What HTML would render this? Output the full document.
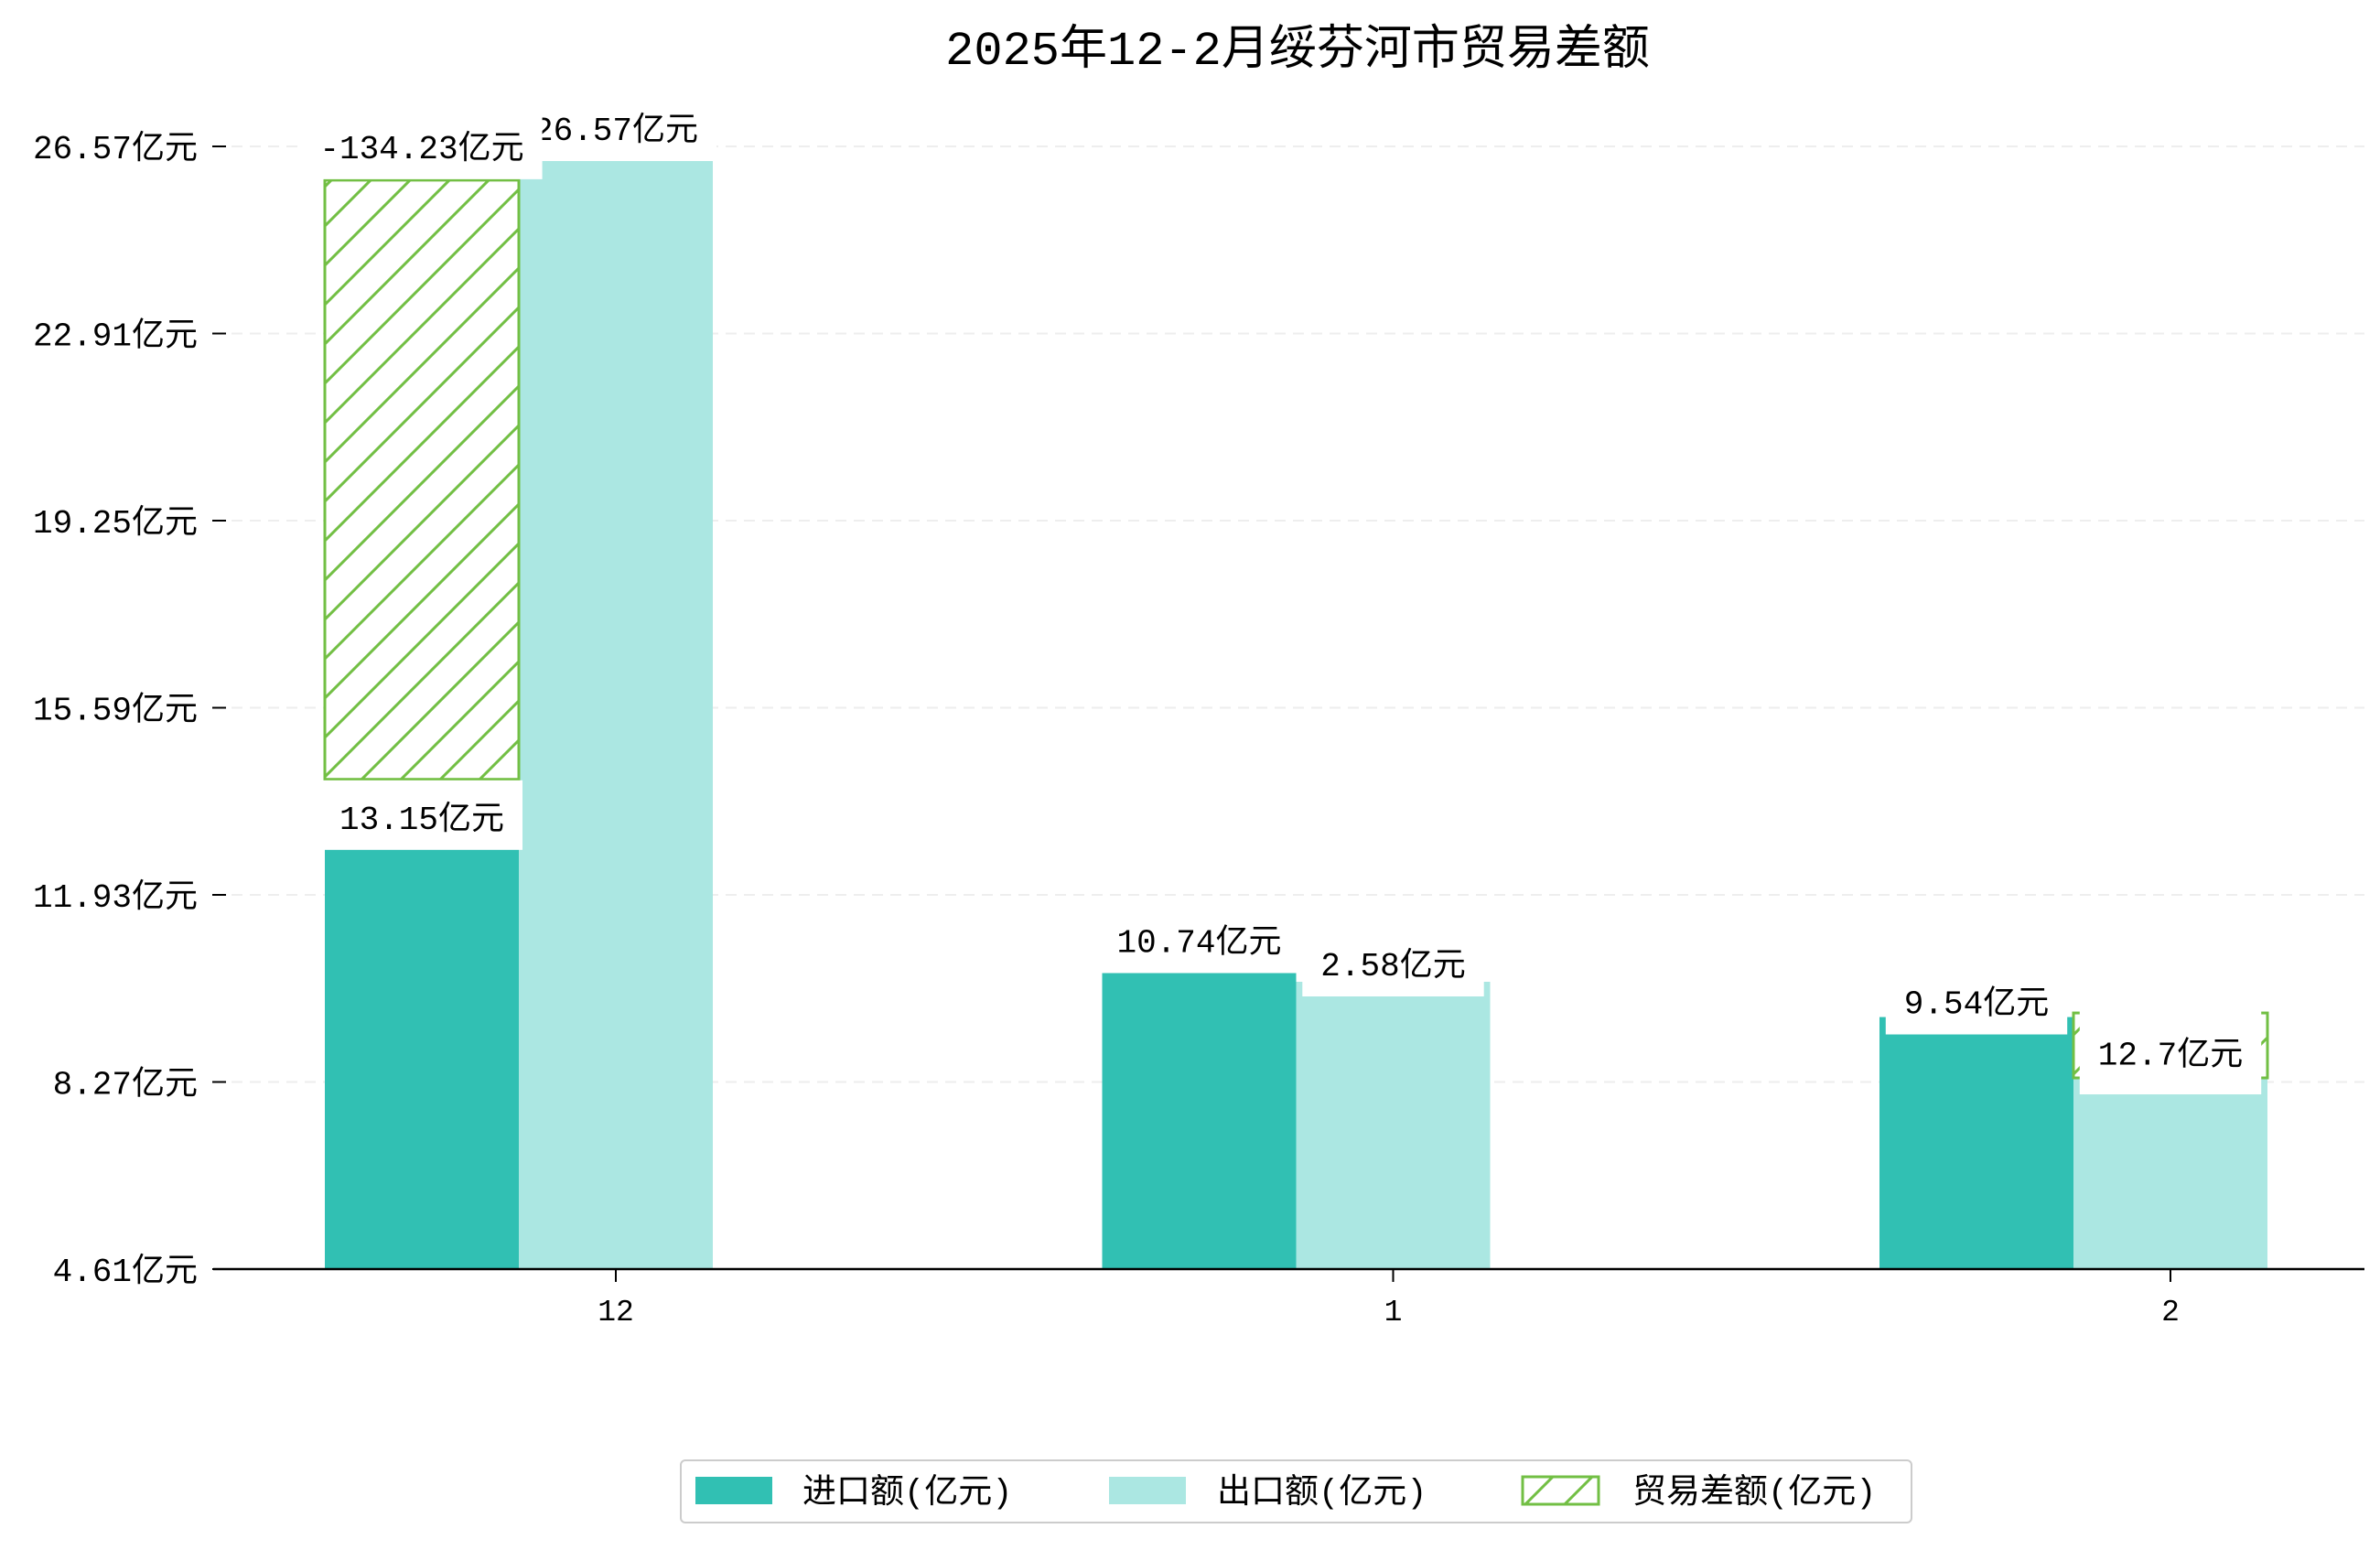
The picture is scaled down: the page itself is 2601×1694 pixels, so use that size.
<!DOCTYPE html>
<html><head><meta charset="utf-8"><style>
html,body{margin:0;padding:0;background:#fff;}
svg text{font-family:"Liberation Mono","Noto Sans CJK SC",monospace;}
</style></head><body>
<svg id="chart" width="2601" height="1689" viewBox="0 0 2601 1689" xmlns="http://www.w3.org/2000/svg">
<defs>
<pattern id="hatch" patternUnits="userSpaceOnUse" width="43" height="43">
<rect width="43" height="43" fill="#fff"/>
<path d="M-5,48 L48,-5 M-5,5 L5,-5 M38,48 L48,38" stroke="#72bf44" stroke-width="3"/>
</pattern>
</defs>
<text x="1418" y="70" font-size="52" text-anchor="middle" fill="#000">2025年12-2月绥芬河市贸易差额</text>
<g id="grid"></g><g id="bars"></g><g id="labels"></g><g id="axes"></g>
<g>
<rect x="744" y="1596" width="1345" height="68" rx="5" fill="#fff" stroke="#ccc" stroke-width="2"/>
<rect x="760" y="1614" width="84" height="30" fill="#31c0b3"/>
<text x="877" y="1642" font-size="37">进口额(亿元)</text>
<rect x="1212" y="1614" width="84" height="30" fill="#abe7e2"/>
<text x="1330" y="1642" font-size="37">出口额(亿元)</text>
<rect x="1664" y="1614" width="83" height="30" fill="url(#hatch)" stroke="#72bf44" stroke-width="3"/>
<text x="1784" y="1642" font-size="37">贸易差额(亿元)</text>
</g>
</svg>
<script>
const categories = ["12", "1", "2"];
const importValues = [13.15, 10.74, 9.54];
const exportValues = [26.57, 10.23, 8.35];
const balanceTop = [25.91, null, 9.62];
const balanceBottom = [14.19, null, 8.35];
const importLabels = ["13.15亿元", "10.74亿元", "9.54亿元"];
const exportLabels = ["26.57亿元", "2.58亿元", null];
const balanceLabels = ["-134.23亿元", null, "12.7亿元"];
const yTicks = [4.61, 8.27, 11.93, 15.59, 19.25, 22.91, 26.57];

const NS = "http://www.w3.org/2000/svg";
const X0 = 233, X1 = 2584, Y0 = 1387, Y1 = 160;
const yMin = 4.61, yMax = 26.57;
function y(v){ return Y0 - (v - yMin) / (yMax - yMin) * (Y0 - Y1); }
function cx(i){ return 673 + i * 849.5; }
const BW = 212;
function mk(tag, attrs, parent){ const e = document.createElementNS(NS, tag); for (const k in attrs) e.setAttribute(k, attrs[k]); parent.appendChild(e); return e; }
const grid = document.getElementById('grid'), bars = document.getElementById('bars'), labels = document.getElementById('labels'), axes = document.getElementById('axes');

yTicks.forEach(t => {
  const g = mk('line', {x1: X0, x2: X1, y1: y(t), y2: y(t), stroke: '#eee', 'stroke-width': 2, 'stroke-dasharray': '12,8'}, grid);
  
  
  const tk = mk('line', {x1: 232, x2: 247, y1: y(t), y2: y(t), stroke: '#000', 'stroke-width': 2}, axes);
  
  
  const tx = mk('text', {x: 216, y: y(t) + 13, 'font-size': 36, 'text-anchor': 'end'}, axes);
  tx.textContent = t.toFixed(2) + '亿元';
  
  
});
const ax = mk('line', {x1: X0, x2: X1, y1: Y0, y2: Y0, stroke: '#000', 'stroke-width': 2.5}, axes);



function textW(s){ let w = 0; for (const ch of s) w += ch.charCodeAt(0) > 255 ? 36 : 21.6; return w; }
function label(text, xc, yc, up, down){
  up = up || 40; down = down || 36;
  const w = textW(text) + 40;
  const r = mk('rect', {x: xc - w/2, y: yc - up, width: w, height: up + down, fill: '#fff'}, labels);
  
  
  const t = mk('text', {x: xc, y: yc + 13, 'font-size': 36, 'text-anchor': 'middle'}, labels);
  t.textContent = text;
  
  
}

categories.forEach((c, i) => {
  const c0 = cx(i);
  const ib = mk('rect', {x: c0 - 1.5*BW, y: y(importValues[i]), width: BW, height: Y0 - y(importValues[i]), fill: '#31c0b3'}, bars);
  
  
  const eb = mk('rect', {x: c0 - 0.5*BW, y: y(exportValues[i]), width: BW, height: Y0 - y(exportValues[i]), fill: '#abe7e2'}, bars);
  
  
  const tk = mk('line', {x1: c0, x2: c0, y1: Y0, y2: Y0 + 14, stroke: '#000', 'stroke-width': 2}, axes);
  
  
  const tl = mk('text', {x: c0, y: Y0 + 56, 'font-size': 33, 'text-anchor': 'middle'}, axes);
  tl.textContent = c;
  
  
});
categories.forEach((c, i) => {
  if (balanceTop[i] === null) return;
  const tall = (y(balanceBottom[i]) - y(balanceTop[i])) > 200;
  const bx = tall ? cx(i) - 1.5*BW : cx(i) - 0.5*BW;
  const bb = mk('rect', {x: bx, y: y(balanceTop[i]), width: BW, height: y(balanceBottom[i]) - y(balanceTop[i]), fill: 'url(#hatch)', stroke: '#72bf44', 'stroke-width': 3}, bars);
  
  
});
categories.forEach((c, i) => { if (exportLabels[i]) label(exportLabels[i], cx(i), y(exportValues[i]) - 20); });
categories.forEach((c, i) => { label(importLabels[i], cx(i) - BW, y(importValues[i]) - 17); });
categories.forEach((c, i) => {
  if (balanceTop[i] === null) return;
  const tall = (y(balanceBottom[i]) - y(balanceTop[i])) > 200;
  if (tall) label(balanceLabels[i], cx(i) - BW, y(balanceTop[i]) - 37);
  else {
    const yc = (y(balanceTop[i]) + y(balanceBottom[i]))/2 + 8;
    label(balanceLabels[i], cx(i), yc, yc - y(balanceTop[i]) + 4, y(balanceBottom[i]) - yc + 18);
  }
});
</script>
</body></html>
